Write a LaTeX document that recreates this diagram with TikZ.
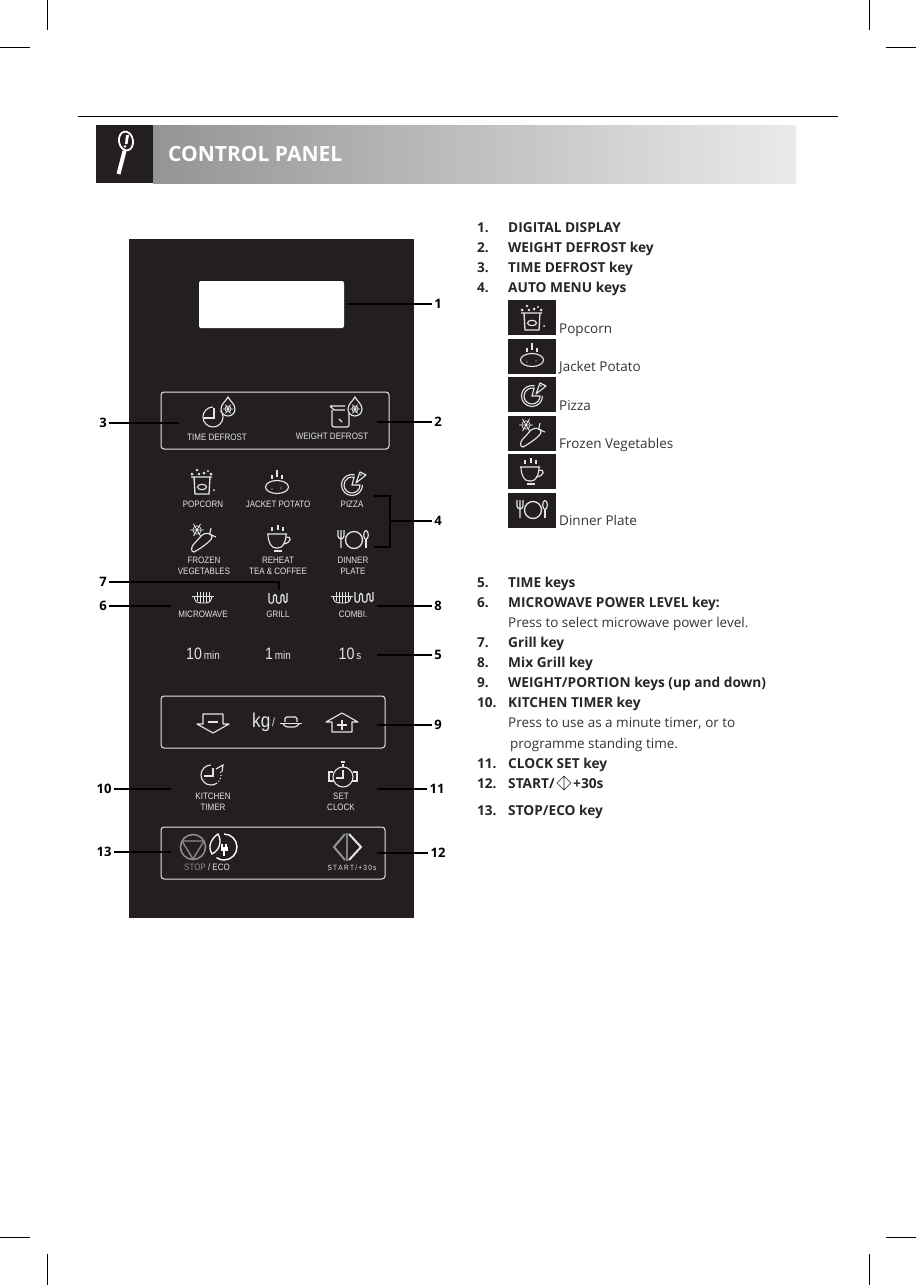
\documentclass[tikz,border=0pt]{standalone}
\usepackage{fontspec}
\setmainfont{Open Sans}
\newfontfamily\panelfont[FakeStretch=0.86]{Liberation Sans}
\usetikzlibrary{calc}

\definecolor{paneldark}{HTML}{231F20}
\definecolor{panelline}{HTML}{E4E4E4}

\tikzset{
  leader/.style={draw=black,line width=1.4pt},
  keyline/.style={draw=panelline,line width=1.15pt},
  keybox/.style={draw=panelline,line width=1pt,rounded corners=3pt},
  keytext/.style={text=panelline,align=center,font=\panelfont\fontsize{9.3}{11}\selectfont,inner sep=0pt},
  refnum/.style={font=\bfseries\fontsize{13}{14}\selectfont,inner sep=2pt},
  listnum/.style={anchor=base west,inner sep=0pt,font=\bfseries\fontsize{13.6}{14}\selectfont,text=black!85},
  listkey/.style={anchor=base west,inner sep=0pt,font=\bfseries\fontsize{13.7}{14}\selectfont,text=black!85},
  listtxt/.style={anchor=base west,inner sep=0pt,font=\fontsize{13.5}{14}\selectfont,text=black!80},
  menubox/.style={fill=paneldark,minimum width=48pt,minimum height=35pt,inner sep=0pt},
  crop/.style={draw=black,line width=0.6pt},
  pics/snowflake/.style={code={
    \draw[keyline,line width=0.85pt] (-#1,0) -- (#1,0) (-0.5*#1,-0.87*#1) -- (0.5*#1,0.87*#1) (0.5*#1,-0.87*#1) -- (-0.5*#1,0.87*#1);
    \draw[keyline,line width=0.7pt] (0,0) circle[radius=0.6*#1];
  }},
  pics/droplet/.style={code={
    \draw[keyline,fill=paneldark] (0,-12) .. controls (2,-8) and (7,-5) .. (7,0) .. controls (7,4) and (4,7) .. (0,7) .. controls (-4,7) and (-7,4) .. (-7,0) .. controls (-7,-5) and (-2,-8) .. (0,-12) -- cycle;
    \pic at (0,0) {snowflake=5};
  }},
  pics/timeclock/.style={code={
    \draw[keyline] (0,-10) arc[start angle=270,end angle=-40,radius=10];
    \draw[keyline] (1,-9) -- (1,1) -- (-9,1);
  }},
  pics/scaleicon/.style={code={
    \draw[keyline,rounded corners=2pt] (-8,-7) -- (-8,10) -- (9,10) -- (9,-7);
    \draw[keyline] (-10,-11) -- (5,-11) (-10,-11) -- (-6,-7) -- (5,-7);
    \draw[keyline] (-1,2) -- (2,5);
  }},
  pics/popcorn/.style={code={
    \draw[keyline,line width=1.3pt] (-11,-5) -- (10,-5) (-8,-5) -- (-7,12) -- (7,12) -- (8,-5);
    \draw[keyline] (0,5) ellipse[x radius=4.5,y radius=2.7];
    \fill[panelline] (-10,-8) circle[radius=1.5] (-5,-12) circle[radius=1.3] (-3,-8) circle[radius=1.4] (2,-9) circle[radius=1.5] (6,-11) circle[radius=1.2] (9,-8) circle[radius=1.5] (12,8) circle[radius=1];
  }},
  pics/potato/.style={code={
    \draw[keyline] (0,5) ellipse[x radius=11.5,y radius=6.5];
    \draw[keyline] (-5,-7) -- (-5,-3) (0,-12) -- (0,-5) (5,-7) -- (5,-3);
    \fill[panelline] (-5,7) circle[radius=0.6] (4,6) circle[radius=0.6];
  }},
  pics/pizza/.style={code={
    \draw[keyline] (0,3) ++(10.5,0) arc[start angle=0,end angle=285,radius=10.5];
    \draw[keyline] (0,3) ++(8,0) arc[start angle=0,end angle=285,radius=8] -- (0,3) -- cycle;
    \draw[keyline,line join=round] (8,-10) -- (14,-7) -- (4,1) -- cycle;
    \fill[panelline] (9,-7) circle[radius=0.9];
  }},
  pics/frozen/.style={code={
    \pic at (-6,-8) {snowflake=7};
    \draw[keyline] (-9,14) .. controls (-12,14) and (-12,10) .. (-10,7) -- (-1,-3) .. controls (3,-6) and (9,-5) .. (9,-1) .. controls (9,3) and (-5,12) .. (-9,14) -- cycle;
    \draw[keyline] (6,-4) -- (13,-1) (7,-5) -- (8,-10);
  }},
  pics/cupicon/.style={code={
    \draw[keyline] (-12,-4) -- (8,-4) (-11,-4) .. controls (-11,4) and (-8,10) .. (-3,10) -- (-1,10) .. controls (4,10) and (7,4) .. (7,-4);
    \draw[keyline] (7,-1) .. controls (13,-2) and (13,5) .. (4,6);
    \draw[keyline] (-5,13) -- (3,13);
    \draw[keyline] (-7,-11) -- (-7,-7) (-1,-13) -- (-1,-8) (4,-11) -- (4,-7);
  }},
  pics/plateicon/.style={code={
    \draw[keyline,line width=1.3pt] (1,1) circle[radius=8.5];
    \draw[keyline] (-15,-9) -- (-15,-3) .. controls (-15,-1) and (-13,0) .. (-12,0) .. controls (-11,0) and (-9,-1) .. (-9,-3) -- (-9,-9) (-12,-9) -- (-12,9);
    \draw[keyline] (13,-4) ellipse[x radius=2.3,y radius=4.5];
    \draw[keyline] (13,0) -- (13,9);
  }},
  pics/microicon/.style={code={
    \draw[keyline,line width=0.95pt] (-11,-2) -- (11,-2);
    \draw[keyline,line width=0.95pt] (-6,-6) -- (-6,3) (-3,-6) -- (-3,5) (0,-6) -- (0,5) (3,-6) -- (3,5) (6,-6) -- (6,3);
    \draw[keyline,line width=0.95pt] (-9,-2) .. controls (-8,4) and (-6,5) .. (-3,5) -- (3,5) .. controls (6,5) and (8,4) .. (9,-2);
  }},
  pics/grillicon/.style={code={
    \draw[keyline] (-9,-6) -- (-9,2) arc[start angle=180,end angle=0,radius=2.25] -- (-4.5,-3) arc[start angle=180,end angle=360,radius=1.5] -- (-1.5,2) arc[start angle=180,end angle=0,radius=2.25] -- (3,-3) arc[start angle=180,end angle=360,radius=1.5] -- (6,2) arc[start angle=180,end angle=0,radius=1.5] -- (9,-6);
  }},
  pics/downkey/.style={code={
    \draw[keyline,line join=round] (-10,-9) -- (10,-9) -- (10,1) -- (16,1) -- (0,10) -- (-16,1) -- (-10,1) -- cycle;
    \draw[keyline,line width=1.4pt] (-5,-1) -- (5,-1);
  }},
  pics/upkey/.style={code={
    \draw[keyline,line join=round] (-10,9) -- (10,9) -- (10,-1) -- (16,-1) -- (0,-10) -- (-16,-1) -- (-10,-1) -- cycle;
    \draw[keyline,line width=1.4pt] (-5,2) -- (5,2) (0,-3) -- (0,7);
  }},
  pics/dishicon/.style={code={
    \draw[keyline,rounded corners=1.5pt] (-6,0) -- (-6,-5) -- (6,-5) -- (6,0);
    \draw[keyline,line width=1.8pt] (-11,1.5) -- (11,1.5);
    \draw[keyline,rounded corners=1.5pt] (-8,2) -- (-5,5) -- (5,5) -- (8,2);
  }},
  pics/kitchenicon/.style={code={
    \draw[keyline] (-2,-10) arc[start angle=270,end angle=60,radius=10];
    \draw[keyline,dotted,line width=1.2pt] (3,8.66) arc[start angle=60,end angle=-20,radius=10];
    \draw[keyline] (0,-7) -- (0,1) -- (-9,1);
    \draw[keyline] (3,-6) -- (10,-10) -- (9,-3);
  }},
  pics/clockicon/.style={code={
    \draw[keyline] (0,2) circle[radius=10];
    \draw[keyline] (0,-5) -- (0,3) -- (-7,3);
    \draw[keyline] (0,-8) -- (0,-11) (-2,-13) -- (2,-13);
    \draw[keyline] (-10,-3) -- (-14,-3) -- (-14,6) -- (-9,6) (10,-3) -- (14,-3) -- (14,6) -- (9,6);
  }},
  pics/stopicon/.style={code={
    \draw[draw=gray!90,line width=1.6pt] (0,0) circle[radius=12.5];
    \draw[draw=gray!90,line width=1.3pt,line join=round] (-11,-6) -- (11,-6) -- (0,12) -- cycle;
  }},
  pics/ecoicon/.style={code={
    \draw[draw=white,line width=1.4pt] (0,-13) arc[start angle=-90,end angle=125,radius=13];
    \draw[draw=white,line width=1.3pt] (-12,7) .. controls (-17,-1) and (-12,-9) .. (-6,-13) .. controls (-2,-6) and (-4,3) .. (-12,7) -- cycle;
    \draw[draw=white,line width=1.1pt] (-2,-3) -- (-2,0) (2,-3) -- (2,0);
    \fill[white] (-3.5,0) rectangle (3.5,4);
    \draw[draw=white,line width=1.1pt] (0,4) -- (0,9);
  }},
  pics/starticon/.style={code={
    \draw[draw=gray!85,line width=2pt] (-2,-13) -- (-13,0) -- (-2,13);
    \draw[draw=white!90!black,line width=2pt] (2,-13) -- (14,0) -- (2,13);
    \draw[draw=gray,line width=2pt] (0,-14) -- (0,14);
  }},
}

\begin{document}
\begin{tikzpicture}[x=1pt,y=-1pt]

\useasboundingbox (0,0) rectangle (916,1285);

% crop marks
\draw[crop] (0,47.5) -- (30,47.5);
\draw[crop] (47.5,0) -- (47.5,30);
\draw[crop] (886,47.5) -- (916,47.5);
\draw[crop] (869.5,0) -- (869.5,30);
\draw[crop] (0,1237) -- (30,1237);
\draw[crop] (47.5,1254) -- (47.5,1285);
\draw[crop] (886,1237) -- (916,1237);
\draw[crop] (869.5,1254) -- (869.5,1285);

% header
\draw[black,line width=0.8pt] (78,116) -- (838,116);
\fill[paneldark] (96,125) rectangle (153,183);
\shade[left color=black!42,right color=black!8] (153,125) rectangle (796,183);
\draw[white,line width=4pt] (124.5,151) -- (118.5,174);
\draw[white,line width=1.8pt,rotate around={10:(126,141)}] (126,141) ellipse[x radius=7,y radius=9.5];
\fill[white] (126,135) -- (129,135) -- (127.5,144) -- (125,144) -- cycle (125,146.5) circle[radius=1.3];
\node[anchor=base west,inner sep=0pt,text=white,font=\bfseries\fontsize{21}{24}\selectfont] (title) at (168,161) {CONTROL PANEL};

% panel
\fill[paneldark] (129,239) rectangle (414,918);
\fill[white] (199,281) [rounded corners=2pt] rectangle (344,328);
\draw[keybox] (161,392) rectangle (389,449);
\draw[keybox] (161,696) rectangle (385,748);
\draw[keybox] (161,827) rectangle (385,879);

% keys
\pic at (213,417) {timeclock};
\pic at (228,409) {droplet};
\pic at (340,417) {scaleicon};
\pic at (355,409) {droplet};
\node[keytext] (timedefrost) at (217,437) {TIME DEFROST};
\node[keytext] (weightdefrost) at (332,436) {WEIGHT DEFROST};

\pic at (202,482) {popcorn};
\pic at (277,482) {potato};
\pic at (352,482) {pizza};
\node[keytext] (popcorn) at (203,504) {POPCORN};
\node[keytext] (potato) at (278,504) {JACKET POTATO};
\node[keytext] (pizza) at (352,504) {PIZZA};

\pic at (203,538) {frozen};
\pic at (279,538) {cupicon};
\pic at (353,539) {plateicon};
\node[keytext] (frozen) at (204,566) {FROZEN\\VEGETABLES};
\node[keytext] (reheat) at (278,566) {REHEAT\\TEA \& COFFEE};
\node[keytext] (dinner) at (353,566) {DINNER\\PLATE};

\pic at (203,598) {microicon};
\pic at (278,599) {grillicon};
\pic at (342,598) {microicon};
\pic at (364,598) {grillicon};
\node[keytext] (microwave) at (203,614) {MICROWAVE};
\node[keytext] (grill) at (278,614) {GRILL};
\node[keytext] (combi) at (353,614) {COMBI.};

\node[keytext,anchor=base,font=\panelfont\fontsize{16.5}{16}\selectfont] (tenmin) at (203,659) {10{\fontsize{11.5}{11}\selectfont\,min}};
\node[keytext,anchor=base,font=\panelfont\fontsize{16.5}{16}\selectfont] (onemin) at (278,659) {1{\fontsize{11.5}{11}\selectfont\,min}};
\node[keytext,anchor=base,font=\panelfont\fontsize{16.5}{16}\selectfont] (tensec) at (350,659) {10{\fontsize{11.5}{11}\selectfont\,s}};

\pic at (213,723) {downkey};
\pic at (342,723) {upkey};
\node[keytext,anchor=base west,font=\panelfont\fontsize{20}{20}\selectfont] (kg) at (252,727) {kg};
\node[keytext,anchor=base west,font=\panelfont\fontsize{12}{12}\selectfont] (slash) at (272,726) {/};
\pic at (291,722) {dishicon};

\pic at (213,775) {kitchenicon};
\pic at (343,775) {clockicon};
\node[keytext] (timer) at (213,802) {KITCHEN\\TIMER};
\node[keytext] (setclock) at (341,802) {SET\\CLOCK};

\pic at (193,847) {stopicon};
\pic at (224,847) {ecoicon};
\pic at (347,847) {starticon};
\node[keytext] (stopeco) at (207,867) {\textcolor{gray!90}{STOP} / ECO};
\node[keytext,font=\panelfont\fontsize{7.6}{8}\selectfont] (start) at (352,868) {S\,T\,A\,R\,T\,/\,+\,3\,0\,s};

% reference numbers
\node[refnum] (num1) at (438,304) {1};
\node[refnum] (num2) at (438,422) {2};
\node[refnum] (num3) at (103,423) {3};
\node[refnum] (num4) at (438,521) {4};
\node[refnum] (num5) at (438,655) {5};
\node[refnum] (num6) at (103,606) {6};
\node[refnum] (num7) at (103,582) {7};
\node[refnum] (num8) at (438,606) {8};
\node[refnum] (num9) at (438,725) {9};
\node[refnum] (num10) at (104,789) {10};
\node[refnum] (num11) at (437,789) {11};
\node[refnum] (num12) at (438,853) {12};
\node[refnum] (num13) at (104,852) {13};

\coordinate (tip1) at (347,304);
\coordinate (tip2) at (377,422);
\coordinate (tip3) at (179,423);
\coordinate (tip4) at (390,521);
\coordinate (tip4a) at (374,496);
\coordinate (tip4b) at (374,547);
\coordinate (tip5) at (377,655);
\coordinate (tip6) at (171,606);
\coordinate (tip7) at (279,590);
\coordinate (tip8) at (377,606);
\coordinate (tip9) at (377,725);
\coordinate (tip10) at (171,789);
\coordinate (tip11) at (377,789);
\coordinate (tip12) at (377,853);
\coordinate (tip13) at (171,852);

\draw[leader] (num1) -- (tip1);
\draw[leader] (num2) -- (tip2);
\draw[leader] (num3) -- (tip3);
\draw[leader] (num4) -- (tip4);
\draw[leader] (tip4a) -- (390,496) -- (390,547) -- (tip4b);
\draw[leader] (num5) -- (tip5);
\draw[leader] (num6) -- (tip6);
\draw[leader] (num7) -- (279,582) -- (tip7);
\draw[leader] (num8) -- (tip8);
\draw[leader] (num9) -- (tip9);
\draw[leader] (num10) -- (tip10);
\draw[leader] (num11) -- (tip11);
\draw[leader] (num12) -- (tip12);
\draw[leader] (num13) -- (tip13);

% list
\node[listnum] (item1) at (477,232) {1.};
\node[listkey] (key1) at (508,232) {DIGITAL DISPLAY};
\node[listnum] (item2) at (477,252) {2.};
\node[listkey] (key2) at (508,252) {WEIGHT DEFROST key};
\node[listnum] (item3) at (477,272) {3.};
\node[listkey] (key3) at (508,272) {TIME DEFROST key};
\node[listnum] (item4) at (477,292) {4.};
\node[listkey] (key4) at (508,292) {AUTO MENU keys};

\node[menubox] (menu1) at (532,317.5) {};
\pic at (532,318) {popcorn};
\node[listtxt] (text1) at (559,333) {Popcorn};
\node[menubox] (menu2) at (532,356) {};
\pic at (532,355) {potato};
\node[listtxt] (text2) at (559,371) {Jacket Potato};
\node[menubox] (menu3) at (532,394.5) {};
\pic at (532,393) {pizza};
\node[listtxt] (text3) at (559,410) {Pizza};
\node[menubox] (menu4) at (532,433) {};
\pic at (532,433) {frozen};
\node[listtxt] (text4) at (559,448) {Frozen Vegetables};
\node[menubox] (menu5) at (532,471.5) {};
\pic at (532,471) {cupicon};
\node[menubox] (menu6) at (532,510) {};
\pic at (532,509) {plateicon};
\node[listtxt] (text6) at (559,525) {Dinner Plate};

\node[listnum] (item5) at (477,587) {5.};
\node[listkey] (key5) at (508,587) {TIME keys};
\node[listnum] (item6) at (477,607) {6.};
\node[listkey] (key6) at (508,607) {MICROWAVE POWER LEVEL key:};
\node[listtxt] (note6) at (508,627) {Press to select microwave power level.};
\node[listnum] (item7) at (477,647) {7.};
\node[listkey] (key7) at (508,647) {Grill key};
\node[listnum] (item8) at (477,667) {8.};
\node[listkey] (key8) at (508,667) {Mix Grill key};
\node[listnum] (item9) at (477,687) {9.};
\node[listkey] (key9) at (508,687) {WEIGHT/PORTION keys (up and down)};
\node[listnum] (item10) at (477,707) {10.};
\node[listkey] (key10) at (508,707) {KITCHEN TIMER key};
\node[listtxt] (note10) at (508,727) {Press to use as a minute timer, or to};
\node[listtxt] (note10b) at (510,748) {programme standing time.};
\node[listnum] (item11) at (477,768) {11.};
\node[listkey] (key11) at (508,768) {CLOCK SET key};
\node[listnum] (item12) at (477,788) {12.};
\node[listkey] (key12) at (508,788) {START/};
\node[listkey] (plus12) at (573,788) {+30s};
\draw[black!85,line width=0.6pt] (564,776) -- (557,783) -- (564,790) -- (571,783) -- cycle (564,776) -- (564,790);
\node[listnum] (item13) at (477,815) {13.};
\node[listkey] (key13) at (508,815) {STOP/ECO key};

\end{tikzpicture}
\end{document}
